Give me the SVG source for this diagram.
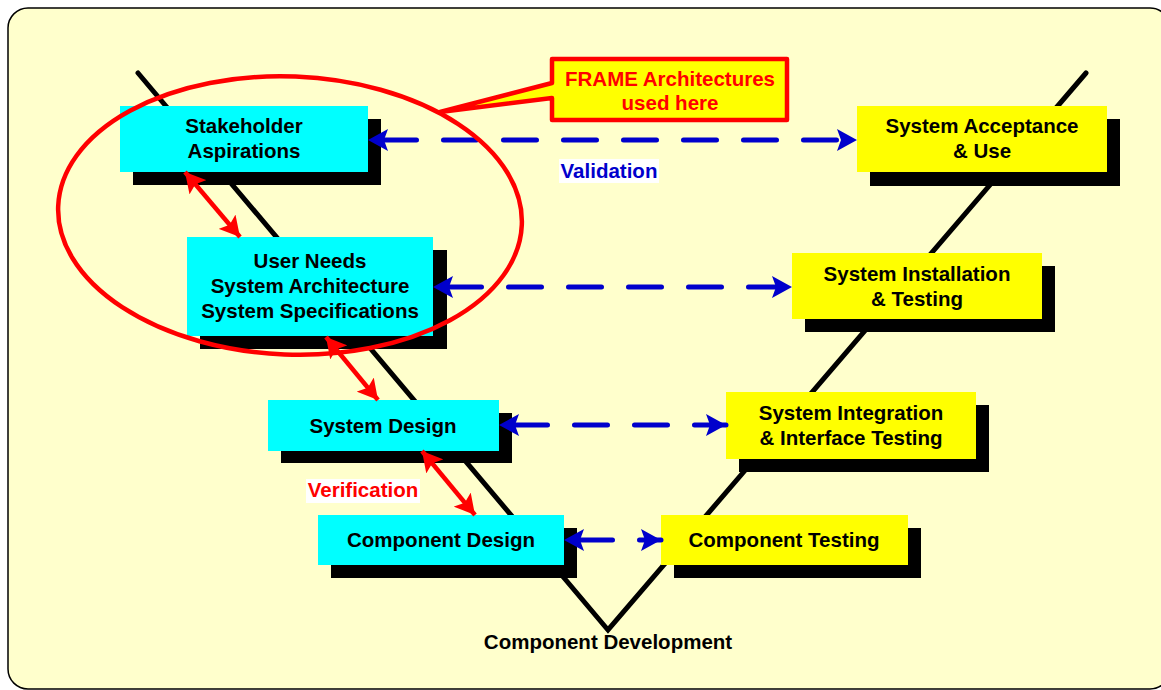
<svg xmlns="http://www.w3.org/2000/svg" width="1161" height="690" viewBox="0 0 1161 690">
  <style>
    text { font-family: "Liberation Sans", Arial, sans-serif; font-weight: bold; font-size: 20.5px; text-anchor: middle; }
    .lbl { fill: #000; }
    .shadow { fill: #000; }
    .cyan { fill: #00FFFF; }
    .yellow { fill: #FFFF00; }
    .vee { stroke: #000; stroke-width: 5; stroke-linecap: round; fill: none; }
    .blue { stroke: #0000CC; stroke-width: 5; stroke-linecap: round; stroke-dasharray: 33 27; stroke-dashoffset: 44.5; fill: none; marker-start: url(#blueHead); marker-end: url(#blueHead); }
    .red { stroke: #FF0000; stroke-width: 4.5; fill: none; marker-start: url(#redHead); marker-end: url(#redHead); }
  </style>
  <defs>
    <marker id="blueHead" markerUnits="userSpaceOnUse" viewBox="0 0 20 22" refX="20" refY="11" markerWidth="20" markerHeight="22" orient="auto-start-reverse">
      <path d="M0,0 L20,11 L0,22 L4,11 Z" fill="#0000CC"/>
    </marker>
    <marker id="redHead" markerUnits="userSpaceOnUse" viewBox="0 0 20 22" refX="20" refY="11" markerWidth="20" markerHeight="22" orient="auto-start-reverse">
      <path d="M0,0 L20,11 L0,22 L4,11 Z" fill="#FF0000"/>
    </marker>
  </defs>

  <!-- page frame -->
  <rect x="0" y="0" width="1161" height="690" fill="#FFFFFF"/>
  <rect x="8" y="8" width="1162" height="681" rx="20" ry="20" fill="#FFFFCC" stroke="#000" stroke-width="1.5"/>

  <!-- the V -->
  <g id="vee">
    <polyline class="vee" points="138,73 608,630 1086,73"/>
  </g>

  <!-- left leg: definition -->
  <g id="stakeholder">
    <rect class="shadow" x="133" y="119" width="248" height="66"/>
    <rect class="cyan" x="120" y="106" width="248" height="66"/>
    <text class="lbl" x="244" y="133">Stakeholder</text>
    <text class="lbl" x="244" y="158">Aspirations</text>
  </g>
  <g id="user-needs">
    <rect class="shadow" x="200" y="250" width="247" height="99"/>
    <rect class="cyan" x="187" y="237" width="246" height="99"/>
    <text class="lbl" x="310" y="268">User Needs</text>
    <text class="lbl" x="310" y="293">System Architecture</text>
    <text class="lbl" x="310" y="318">System Specifications</text>
  </g>
  <g id="system-design">
    <rect class="shadow" x="281" y="413" width="231" height="50"/>
    <rect class="cyan" x="268" y="400" width="231" height="51"/>
    <text class="lbl" x="383" y="433">System Design</text>
  </g>
  <g id="component-design">
    <rect class="shadow" x="331" y="528" width="246" height="50"/>
    <rect class="cyan" x="318" y="515" width="246" height="50"/>
    <text class="lbl" x="441" y="547">Component Design</text>
  </g>

  <!-- right leg: testing -->
  <g id="acceptance">
    <rect class="shadow" x="870" y="119" width="250" height="67"/>
    <rect class="yellow" x="857" y="106" width="250" height="66"/>
    <text class="lbl" x="982" y="133">System Acceptance</text>
    <text class="lbl" x="982" y="158">&amp; Use</text>
  </g>
  <g id="installation">
    <rect class="shadow" x="805" y="266" width="250" height="66"/>
    <rect class="yellow" x="792" y="253" width="250" height="66"/>
    <text class="lbl" x="917" y="281">System Installation</text>
    <text class="lbl" x="917" y="306">&amp; Testing</text>
  </g>
  <g id="integration">
    <rect class="shadow" x="739" y="405" width="250" height="67"/>
    <rect class="yellow" x="726" y="392" width="250" height="67"/>
    <text class="lbl" x="851" y="420">System Integration</text>
    <text class="lbl" x="851" y="445">&amp; Interface Testing</text>
  </g>
  <g id="component-testing">
    <rect class="shadow" x="674" y="528" width="247" height="50"/>
    <rect class="yellow" x="661" y="515" width="247" height="50"/>
    <text class="lbl" x="784" y="547">Component Testing</text>
  </g>

  <!-- connectors -->
  <g id="connectors">
    <path class="blue" d="M368,140 H857"/>
    <path class="blue" d="M433,287 H792"/>
    <path class="blue" d="M499,425 H726"/>
    <path class="blue" d="M564,540 H661"/>
    <path class="red" d="M185,172 L240,237"/>
    <path class="red" d="M326,337 L378,400"/>
    <path class="red" d="M422,451 L475,515"/>
  </g>

  <!-- labels -->
  <g id="validation">
    <rect x="559" y="159" width="100" height="24" fill="#FFFFFF"/>
    <text x="609" y="178" fill="#0000CC">Validation</text>
  </g>
  <g id="verification">
    <rect x="306" y="479" width="114" height="24" fill="#FFFFFF"/>
    <text x="363" y="497" fill="#FF0000">Verification</text>
  </g>
  <g id="component-development">
    <text class="lbl" x="608" y="649">Component Development</text>
  </g>

  <!-- highlight ring and callout -->
  <g id="frame-ring">
    <ellipse cx="290" cy="215.5" rx="232" ry="139" transform="rotate(2.3 290 215.5)" fill="none" stroke="#FF0000" stroke-width="4.5"/>
  </g>
  <g id="frame-callout">
    <path d="M552,59 H787 V120 H552 V98 L440,112 L552,83 Z" fill="#FFFF00" stroke="#FF0000" stroke-width="4.5" stroke-linejoin="round"/>
    <text x="670" y="86" fill="#FF0000">FRAME Architectures</text>
    <text x="670" y="110" fill="#FF0000">used here</text>
  </g>
</svg>
